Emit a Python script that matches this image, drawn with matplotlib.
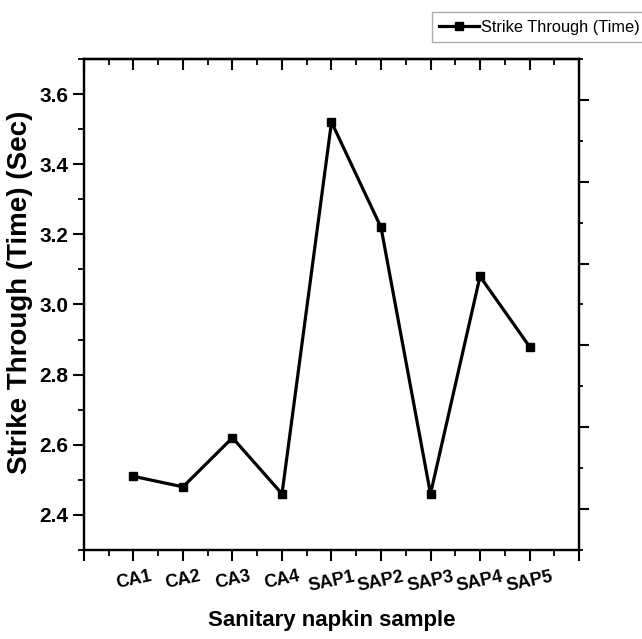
import numpy as np
import matplotlib
matplotlib.use('Agg')
import matplotlib.pyplot as plt
from matplotlib.ticker import MultipleLocator, FixedLocator, FixedFormatter

# data
samples = ['CA1', 'CA2', 'CA3', 'CA4', 'SAP1', 'SAP2', 'SAP3', 'SAP4', 'SAP5']
strike_time = [2.51, 2.48, 2.62, 2.46, 3.52, 3.22, 2.46, 3.08, 2.88]

plt.rcParams['font.family'] = ['Liberation Sans', 'DejaVu Sans']
plt.rcParams['font.weight'] = 'bold'

fig = plt.figure(figsize=(6.42, 6.39), dpi=100)
ax = fig.add_axes([0.1308, 0.1393, 0.7711, 0.7684])

x = np.arange(1, len(samples) + 1)
ax.plot(x, strike_time, '-s', color='black', lw=2.3, ms=6,
        label='Strike Through (Time)')

ax.set_xlim(0, len(samples) + 1)
ax.set_ylim(2.3, 3.7)

# x axis: major ticks at every slot incl. the edges, labels only on samples
ticks = np.arange(0, len(samples) + 2)
ax.xaxis.set_major_locator(FixedLocator(ticks))
ax.xaxis.set_major_formatter(FixedFormatter([''] + samples + ['']))
ax.xaxis.set_minor_locator(MultipleLocator(0.5))
ax.yaxis.set_major_locator(MultipleLocator(0.2))
ax.yaxis.set_minor_locator(MultipleLocator(0.1))
ax.yaxis.set_major_formatter(matplotlib.ticker.FormatStrFormatter('%.1f'))

ax.tick_params(which='major', direction='out', length=8, width=1.5)
ax.tick_params(which='minor', direction='out', length=4, width=1.3)
ax.tick_params(axis='y', right=False, labelsize=15, pad=3)
ax.tick_params(axis='x', top=False, labelsize=13, pad=5)
for lab in ax.get_xticklabels():
    lab.set_rotation(12)
    lab.set_fontweight('bold')
for lab in ax.get_yticklabels():
    lab.set_fontweight('bold')
for sp in ax.spines.values():
    sp.set_linewidth(1.6)

# top ticks point inward
top = ax.secondary_xaxis('top')
top.xaxis.set_major_locator(FixedLocator(ticks))
top.xaxis.set_minor_locator(MultipleLocator(0.5))
top.tick_params(which='major', direction='in', length=8, width=1.5,
                labeltop=False)
top.tick_params(which='minor', direction='in', length=4, width=1.3)
top.spines['top'].set_linewidth(1.6)

# right axis has its own (unlabelled) tick spacing in the original
right = ax.twinx()
right.set_ylim(-0.5, 5.5)
right.yaxis.set_major_locator(MultipleLocator(1))
right.yaxis.set_minor_locator(MultipleLocator(0.5))
right.tick_params(which='major', direction='out', length=7, width=1.5,
                  labelright=False)
right.tick_params(which='minor', direction='out', length=3, width=1.3)
for sp in right.spines.values():
    sp.set_linewidth(1.6)

ax.set_ylabel('Strike Through (Time) (Sec)', fontsize=20, fontweight='bold')
ax.yaxis.set_label_coords(-0.102, 0.525)
ax.set_xlabel('Sanitary napkin sample', fontsize=16, fontweight='bold',
              va='top')
ax.xaxis.set_label_coords(0.5, -0.122)

leg = fig.legend(loc='upper left', bbox_to_anchor=(0.673, 0.981),
                 fontsize=11.8, frameon=True, fancybox=False,
                 handlelength=2.4, handletextpad=0.15, borderpad=0.45,
                 borderaxespad=0)
leg.get_frame().set_edgecolor('#999999')
leg.get_frame().set_linewidth(1.0)
for t in leg.get_texts():
    t.set_fontweight('normal')

fig.savefig('out.png', dpi=100)
